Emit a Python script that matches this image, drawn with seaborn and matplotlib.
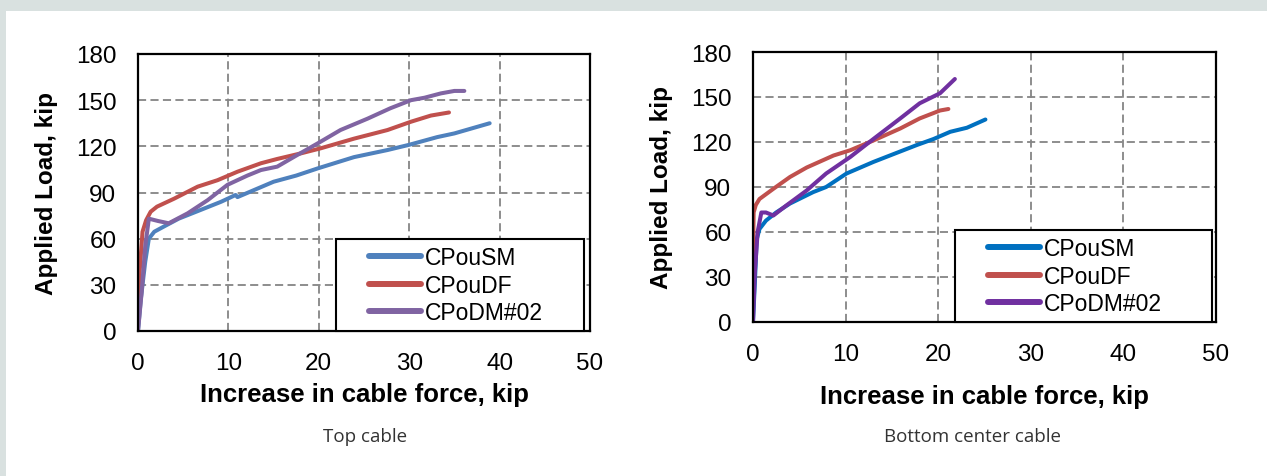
import numpy as np
import pandas as pd
import seaborn as sns
from matplotlib import pyplot as plt
from matplotlib.patches import Rectangle
from matplotlib.legend_handler import HandlerLine2D


SERIES = ['CPouSM', 'CPouDF', 'CPoDM#02']

# Top cable (increase in cable force, applied load)
top_sm_x = [0, 0.3, 0.8, 1.2, 1.8, 2.9, 4.5, 6.9, 9.2, 10.8, 11.0, 13.0, 15.0, 17.5, 19.9, 23.9, 27.6, 30.0, 33.1, 35.0, 38.9]
top_sm_y = [0, 20, 45, 60, 64.5, 68, 73, 78.6, 84, 88.4, 87, 92, 97, 101, 105.7, 113, 117.6, 121, 126, 128.4, 135]
top_df_x = [0, 0.2, 0.5, 0.9, 1.4, 2.1, 4.0, 6.6, 8.8, 11.0, 13.6, 15.4, 18.0, 20.2, 23.9, 27.6, 30.2, 32.4, 34.4]
top_df_y = [8, 40, 64.5, 72, 77.5, 80.8, 86, 93.8, 98, 103.5, 109, 111.8, 115.4, 118.7, 125, 130.6, 136, 140, 142]
top_dm_x = [0, 0.4, 0.8, 1.2, 2.2, 3.4, 5.5, 7.7, 9.9, 12.1, 13.6, 15.4, 17.3, 19.9, 22.4, 25.4, 27.9, 30.2, 31.7, 33.5, 35.0, 36.1]
top_dm_y = [0, 25, 55, 73, 71.5, 70, 76.5, 85, 95, 101, 104.6, 106.8, 113.3, 122, 130.6, 138, 144.7, 150, 151.6, 154.4, 156, 156]

# Bottom center cable
bot_sm_x = [0, 0.2, 0.4, 0.7, 1.4, 2.5, 4.0, 6.5, 7.9, 10.1, 13.0, 15.2, 17.7, 19.5, 21.3, 23.1, 25.1]
bot_sm_y = [0, 26, 55, 62, 67.6, 73, 79, 86.6, 90, 99, 106.7, 112, 118, 122, 126.8, 129.5, 135]
bot_df_x = [0, 0.07, 0.3, 0.7, 2.2, 4.0, 5.8, 8.7, 10.5, 13.0, 15.9, 18.0, 20.2, 21.1]
bot_df_y = [44, 73, 78, 82, 88.8, 96.7, 103, 111, 114.5, 121, 129, 135.7, 141, 142]
bot_dm_x = [0, 0.2, 0.5, 0.9, 1.4, 2.2, 3.6, 5.8, 7.9, 10.5, 13.0, 15.9, 18.0, 20.2, 21.8]
bot_dm_y = [0, 33, 60, 73, 73, 71, 77.7, 87.7, 99, 110, 122, 135.7, 145.8, 152.5, 162]

top_colors = ['#4f81bd', '#c0504d', '#8064a2']
bot_colors = ['#0070c0', '#c0504d', '#7030a0']


class OffsetLine(HandlerLine2D):
    # legend line that leaves an empty gap on its left side
    def create_artists(self, legend, orig_handle, xdescent, ydescent,
                       width, height, fontsize, trans):
        arts = super().create_artists(legend, orig_handle, xdescent, ydescent,
                                      width, height, fontsize, trans)
        for a in arts:
            xd = np.asarray(a.get_xdata(), dtype=float)
            if len(xd) >= 2:
                x0, x1 = xd[0], xd[-1]
                a.set_xdata(np.linspace(x0 + 0.34 * (x1 - x0), x1, len(xd)))
        return arts


def make_frame(xs, ys):
    parts = []
    for name, x, y in zip(SERIES, xs, ys):
        parts.append(pd.DataFrame({'force': x, 'load': y, 'series': name}))
    return pd.concat(parts, ignore_index=True)


def draw_panel(ax, df, colors, leg_box, xpad):
    sns.lineplot(data=df, x='force', y='load', hue='series', hue_order=SERIES,
                 palette=dict(zip(SERIES, colors)), sort=False, estimator=None,
                 linewidth=2.9, ax=ax)
    ax.set_xlim(0, 50)
    ax.set_ylim(0, 180)
    ax.set_xticks(range(0, 51, 10))
    ax.set_yticks(range(0, 181, 30))
    ax.grid(True, color='#858585', linestyle=(0, (4.5, 2.4)), linewidth=1.3)
    ax.set_axisbelow(True)
    for s in ax.spines.values():
        s.set_color('black')
        s.set_linewidth(1.6)
    ax.tick_params(axis='x', direction='out', length=5.5, width=1.3,
                   labelsize=17.5, colors='black', pad=9.5)
    ax.tick_params(axis='y', direction='inout', length=9, width=1.3,
                   labelsize=17.5, colors='black', pad=11)
    ax.set_xlabel('Increase in cable force, kip', fontsize=18.5, fontweight='bold',
                  labelpad=xpad, color='black')
    ax.set_ylabel('Applied Load, kip', fontsize=17.5, fontweight='bold',
                  labelpad=13, color='black')
    leg = ax.legend(loc='lower left', bbox_to_anchor=leg_box,
                    mode='expand', fontsize=16.5, frameon=True, fancybox=False,
                    edgecolor='black', framealpha=1, handlelength=3.4,
                    handletextpad=0.2, borderpad=0.3, labelspacing=0.2,
                    borderaxespad=0, handler_map={plt.Line2D: OffsetLine()})
    leg.get_frame().set_linewidth(1.5)
    for line in leg.get_lines():
        line.set_linewidth(4.3)
    for t in leg.get_texts():
        t.set_color('black')


sns.set_style('white')
plt.rcParams['font.family'] = ['Liberation Sans', 'DejaVu Sans']
plt.rcParams['text.color'] = 'black'

fig = plt.figure(figsize=(12.67, 4.77), dpi=100)
fig.patch.set_facecolor('#d9e1e0')
fig.patches.append(Rectangle((6 / 1267, 0), 1 - 6 / 1267, 1 - 12 / 477,
                             transform=fig.transFigure, facecolor='white',
                             edgecolor='none', zorder=-10))

ax1 = fig.add_axes([138 / 1267, 145 / 477, 452 / 1267, 277 / 477])
ax2 = fig.add_axes([753 / 1267, 154 / 477, 463 / 1267, 270 / 477])

draw_panel(ax1, make_frame([top_sm_x, top_df_x, top_dm_x], [top_sm_y, top_df_y, top_dm_y]),
           top_colors, (0.438, 0.0, 0.549, 0.347), 6)
draw_panel(ax2, make_frame([bot_sm_x, bot_df_x, bot_dm_x], [bot_sm_y, bot_df_y, bot_dm_y]),
           bot_colors, (0.436, 0.0, 0.555, 0.367), 13.5)

fig.text(365 / 1267, 1 - 437 / 477, 'Top cable', ha='center', va='center',
         fontsize=13.5, color='#333333', family=['Open Sans', 'DejaVu Sans'])
fig.text(972 / 1267, 1 - 437 / 477, 'Bottom center cable', ha='center', va='center',
         fontsize=13.5, color='#333333', family=['Open Sans', 'DejaVu Sans'])

fig.savefig('out.png', dpi=100, facecolor=fig.get_facecolor())
